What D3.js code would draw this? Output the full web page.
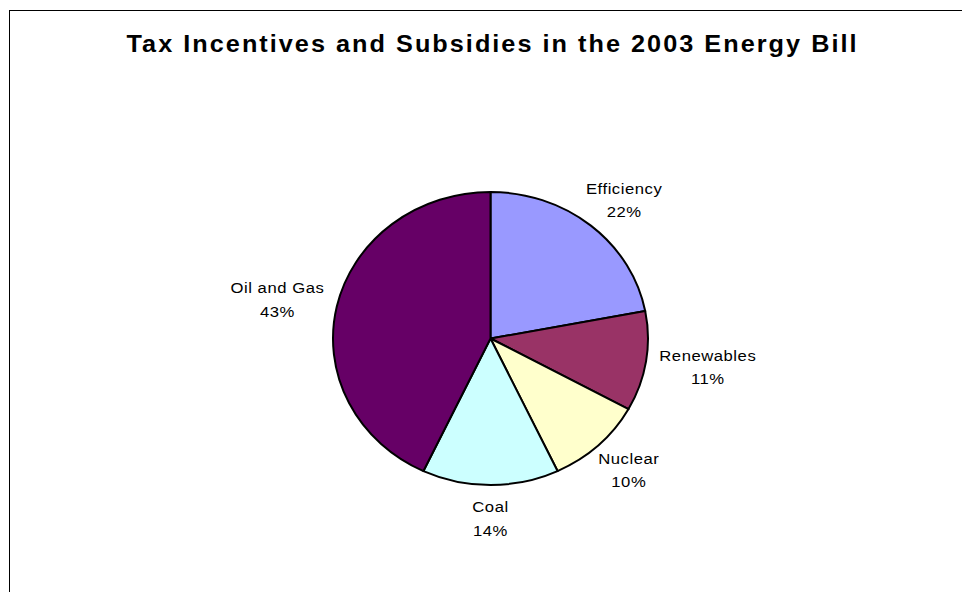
<!DOCTYPE html>
<html lang="en">

<head>
  <meta charset="utf-8">
  <title>Tax Incentives and Subsidies in the 2003 Energy Bill</title>
  <script src="https://cdn.jsdelivr.net/npm/d3@7/dist/d3.min.js"></script>
  <style>
    body { margin: 0; background: #fff; }
    text { font-family: "Liberation Sans", Arial, sans-serif; fill: #000; }
  </style>
</head>

<body>
  <script>
    // data, clockwise from 12 o'clock
    var categories = ["Efficiency", "Renewables", "Nuclear", "Coal", "Oil and Gas"];
    var shares = [22, 11, 10, 14, 43];
    var colors = ["#9999ff", "#993366", "#ffffcc", "#ccffff", "#660066"];
    var title = "Tax Incentives and Subsidies in the 2003 Energy Bill";

    var w = 962;
    var h = 592;
    var cx = 490.5;
    var cy = 338.5;
    var radius = 146.5;
    var stretch = 157.5 / 146.5;   // the whole picture is a bit wider than tall
    var labelGap = 13;

    var svg = d3.select("body").append("svg")
                .attr("width", w)
                .attr("height", h);

    // chart frame (runs off the right and bottom edges)
    svg.append("rect")
       .attr("x", 9.5)
       .attr("y", 10.5)
       .attr("width", 1000)
       .attr("height", 700)
       .attr("fill", "#fff")
       .attr("stroke", "#000")
       .attr("stroke-width", 1);

    svg.append("g")
       .attr("transform", "translate(491.5,52) scale(" + stretch + ",1)")
       .append("text")
       .attr("x", 0)
       .attr("y", 0)
       .attr("text-anchor", "middle")
       .attr("font-size", 23.5)
       .attr("font-weight", "bold")
       .attr("textLength", 730 / stretch)
       .attr("lengthAdjust", "spacing")
       .text(title);

    var data = categories.map(function (c, i) {
      return { name: c, value: shares[i], color: colors[i] };
    });

    var pie = d3.pie()
                .sort(null)
                .value(function (d) { return d.value; });
    var arc = d3.arc()
                .innerRadius(0)
                .outerRadius(radius);

    var total = d3.sum(shares);
    var slices = pie(data);

    var g = svg.append("g")
               .attr("transform", "translate(" + cx + "," + cy + ") scale(" + stretch + ",1)");

    g.selectAll(".slice")
     .data(slices)
     .enter()
       .append("path")
       .classed("slice", true)
       .attr("d", arc)
       .attr("fill", function (d) { return d.data.color; })
       .attr("stroke", "#000")
       .attr("stroke-width", 2)
       .attr("stroke-linejoin", "round")
       .attr("vector-effect", "non-scaling-stroke");

    // labels sit just outside the rim, pushed away along the mid angle
    var labels = g.selectAll(".label")
                  .data(slices)
                  .enter()
                    .append("text")
                    .classed("label", true)
                    .attr("text-anchor", "middle")
                    .attr("font-size", 15.5)
                    .attr("letter-spacing", 0.5);

    labels.append("tspan")
          .attr("x", 0)
          .attr("y", 0)
          .text(function (d) { return d.data.name; });
    labels.append("tspan")
          .attr("x", 0)
          .attr("dy", 23.5)
          .text(function (d) { return Math.round(d.data.value / total * 100) + "%"; });

    labels.each(function (d) {
      var box = this.getBBox();
      var a = (d.startAngle + d.endAngle) / 2;
      var sx = Math.sin(a);
      var sy = -Math.cos(a);
      var px = (radius + labelGap) * sx + sx * box.width / 2;
      var py = (radius + labelGap) * sy + sy * box.height / 2;
      var boxCx = box.x + box.width / 2;
      var boxCy = box.y + box.height / 2;
      d3.select(this)
        .attr("transform", "translate(" + (px - boxCx) + "," + (py - boxCy) + ")");
    });
  </script>
</body>

</html>
